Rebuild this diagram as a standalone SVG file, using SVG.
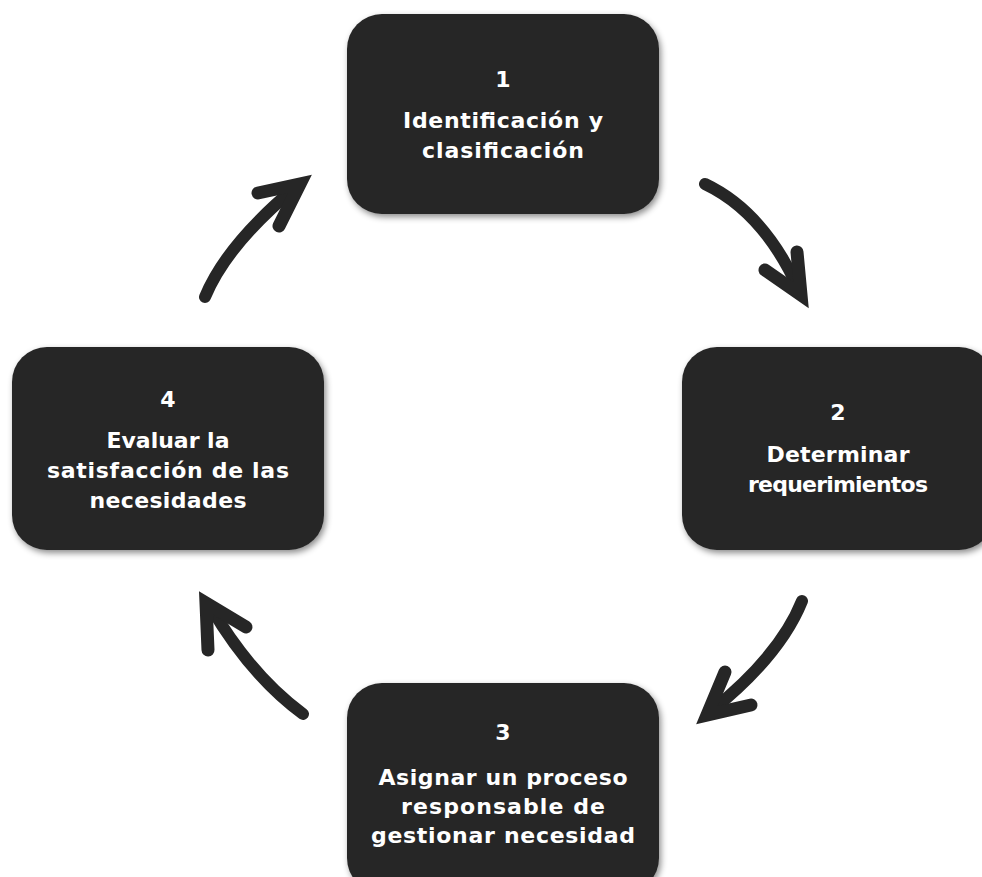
<svg xmlns="http://www.w3.org/2000/svg" width="982" height="877" viewBox="0 0 982 877">
  <style>
    .box { fill: #262626; }
    .label { fill: #ffffff; font-family: "DejaVu Sans", "Liberation Sans", sans-serif; font-weight: bold; font-size: 22px; text-anchor: middle; }
    .shaft { fill: none; stroke: #262626; stroke-width: 12; stroke-linecap: round; }
    .head { fill: none; stroke: #262626; stroke-width: 13; stroke-linecap: round; stroke-linejoin: miter; stroke-miterlimit: 10; }
  </style>
  <defs>
    <filter id="shadow" x="-10%" y="-10%" width="120%" height="130%">
      <feDropShadow dx="2" dy="3" stdDeviation="3" flood-color="#000000" flood-opacity="0.45"/>
    </filter>
  </defs>
  <rect width="982" height="877" fill="#ffffff"/>

  <!-- step 1 -->
  <g id="node1">
    <rect class="box" x="347" y="14" width="312" height="200" rx="35" filter="url(#shadow)"/>
    <text class="label" x="503" y="87">1</text>
    <text class="label" x="503" y="128" textLength="200">Identificación y</text>
    <text class="label" x="503" y="158" textLength="162">clasificación</text>
  </g>

  <!-- step 2 -->
  <g id="node2">
    <rect class="box" x="682" y="347" width="312" height="203" rx="35" filter="url(#shadow)"/>
    <text class="label" x="838" y="420">2</text>
    <text class="label" x="838" y="462" textLength="143">Determinar</text>
    <text class="label" x="838" y="492" textLength="180">requerimientos</text>
  </g>

  <!-- step 3 -->
  <g id="node3">
    <rect class="box" x="347" y="683" width="312" height="210" rx="35" filter="url(#shadow)"/>
    <text class="label" x="503" y="740">3</text>
    <text class="label" x="503" y="785" textLength="249">Asignar un proceso</text>
    <text class="label" x="503" y="814" textLength="204">responsable de</text>
    <text class="label" x="503" y="843" textLength="264">gestionar necesidad</text>
  </g>

  <!-- step 4 -->
  <g id="node4">
    <rect class="box" x="12" y="347" width="312" height="203" rx="35" filter="url(#shadow)"/>
    <text class="label" x="168" y="407">4</text>
    <text class="label" x="168" y="448" textLength="123">Evaluar la</text>
    <text class="label" x="168" y="478" textLength="242">satisfacción de las</text>
    <text class="label" x="168" y="508" textLength="157">necesidades</text>
  </g>

  <!-- curved arrows between steps -->
  <g id="connectors">
    <path class="shaft" d="M705,184 Q764,212 799,290"/>
    <polyline class="head" points="765,270 801,295 797,252"/>

    <path class="shaft" d="M802,601 Q780,656 710,712"/>
    <polyline class="head" points="725,672 707,715 751,705"/>

    <path class="shaft" d="M303,714 Q251,676 210,606"/>
    <polyline class="head" points="208,650 206,603 246,627"/>

    <path class="shaft" d="M205,297 Q227,244 296,187"/>
    <polyline class="head" points="258,193 300,184 279,226"/>
  </g>
</svg>
